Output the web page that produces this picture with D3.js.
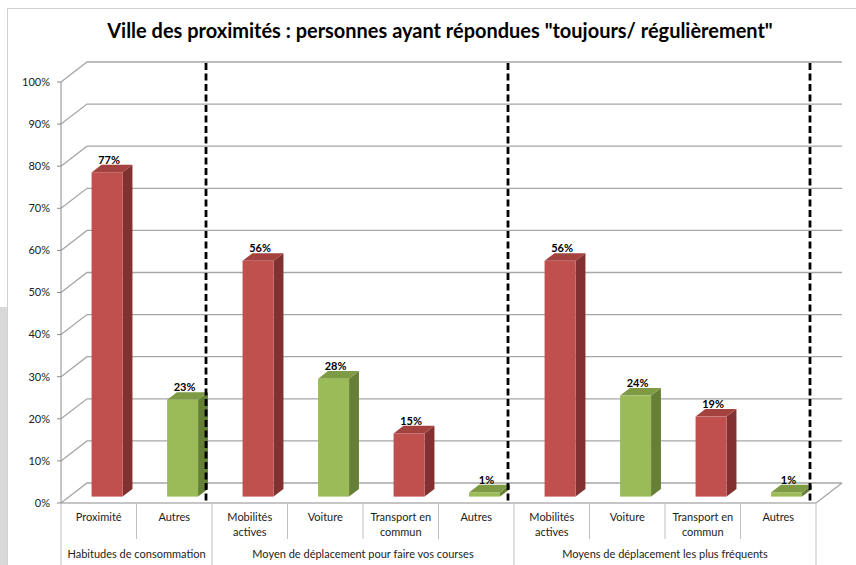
<!DOCTYPE html>
<html>
<head>
<meta charset="utf-8">
<script src="https://cdn.jsdelivr.net/npm/d3@7"></script>
<style>
    body { margin: 0; background: #fff; }
    svg { display: block; font-family: Lato, "Open Sans", sans-serif; }
    .grid { stroke: #a6a6a6; stroke-width: 1.3; fill: none; }
    .axis { stroke: #8c8c8c; stroke-width: 1; fill: none; }
    .sep { stroke: #bfbfbf; stroke-width: 1; }
    .tick text, .cat, .group { font-size: 11px; fill: #222; }
    .val { font-size: 11px; font-weight: bold; fill: #000; }
</style>
</head>
<body>
<svg width="856" height="565"></svg>
<script>
var title = 'Ville des proximités : personnes ayant répondues "toujours/ régulièrement"';
var categories = ['Proximité', 'Autres', 'Mobilités\nactives', 'Voiture', 'Transport en\ncommun', 'Autres',
                  'Mobilités\nactives', 'Voiture', 'Transport en\ncommun', 'Autres'];
var values = [77, 23, 56, 28, 15, 1, 56, 24, 19, 1];
var groupNames = ['Habitudes de consommation', 'Moyen de déplacement pour faire vos courses', 'Moyens de déplacement les plus fréquents'];
var groupSizes = [2, 4, 4];
var yTicks = [0, 10, 20, 30, 40, 50, 60, 70, 80, 90, 100];

var dom = {};
var depth = { dx: 26, dy: -20 };

var palette = [
    { front: '#c0504d', top: '#a3423f', side: '#81312f' },
    { front: '#9bbb59', top: '#7e9a45', side: '#667f36' }
];

function init() {
    dom.svg = d3.select('svg');

    dom.x = d3.scaleBand().domain(d3.range(categories.length)).range([61, 816]);
    dom.y = d3.scaleLinear().domain([0, 100]).range([503, 82]);

    drawFrame();
    drawWalls();
    drawBars();
    drawCategoryAxis();
    drawSeparators();
    drawTitle();
}

function drawFrame() {
    dom.svg.append('rect').attr('x', 0).attr('y', 307).attr('width', 7).attr('height', 258).attr('fill', '#d9d9d9');
    dom.svg.append('path').attr('d', 'M7.5,565V8.5H856').attr('stroke', '#d0d0d0').attr('fill', 'none');
}

function drawWalls() {
    var g = dom.svg.append('g');
    var x0 = dom.x.range()[0], x1 = dom.x.range()[1];

    // gridlines: slant on the side wall + horizontal on the back wall
    g.selectAll('.grid').data(yTicks).enter().append('path')
        .classed('grid', true)
        .attr('d', function(d) {
            var yf = dom.y(d);
            return 'M' + x0 + ',' + yf + 'L' + (x0 + depth.dx) + ',' + (yf + depth.dy) + 'H' + (x1 + depth.dx);
        });

    // floor right edge
    g.append('path').classed('grid', true)
        .attr('d', 'M' + x1 + ',' + dom.y(0) + 'L' + (x1 + depth.dx) + ',' + (dom.y(0) + depth.dy));

    // value axis
    g.append('line').classed('axis', true)
        .attr('x1', x0).attr('x2', x0).attr('y1', dom.y(100)).attr('y2', dom.y(0));

    var ticks = g.selectAll('.tick').data(yTicks).enter().append('g')
        .classed('tick', true)
        .attr('transform', function(d) { return 'translate(0,' + dom.y(d) + ')'; });
    ticks.append('line').classed('axis', true).attr('x1', x0 - 4).attr('x2', x0);
    ticks.append('text')
        .attr('x', 50).attr('dy', '0.35em')
        .attr('text-anchor', 'end')
        .text(function(d) { return d + '%'; });

    // front edge of the floor
    g.append('line').classed('axis', true)
        .attr('x1', x0).attr('x2', x1).attr('y1', dom.y(0)).attr('y2', dom.y(0));
}

function drawBars() {
    var zFront = 0.32, zBack = 0.7;
    var w = 31;
    var base = dom.y(0);
    var sy = dom.y(100) - base; // pixels for 100%

    function fx(i) { return dom.x(i) + dom.x.bandwidth() / 2 + zFront * depth.dx - w / 2; }
    function fy(v) { return base + zFront * depth.dy + sy * v / 100; }
    var bdx = (zBack - zFront) * depth.dx, bdy = (zBack - zFront) * depth.dy;

    var bars = dom.svg.append('g').selectAll('.bar')
            .data(values)
        .enter().append('g')
            .classed('bar', true);

    bars.append('path')
        .attr('fill', function(d, i) { return palette[i % 2].side; })
        .attr('d', function(d, i) {
            var x = fx(i) + w, y0 = fy(0), y1 = fy(d);
            return 'M' + x + ',' + y0 + 'L' + x + ',' + y1 + 'l' + bdx + ',' + bdy +
                'L' + (x + bdx) + ',' + (y0 + bdy) + 'Z';
        });
    bars.append('path')
        .attr('fill', function(d, i) { return palette[i % 2].top; })
        .attr('d', function(d, i) {
            var x = fx(i), y1 = fy(d);
            return 'M' + x + ',' + y1 + 'h' + w + 'l' + bdx + ',' + bdy + 'h' + (-w) + 'Z';
        });
    bars.append('rect')
        .attr('fill', function(d, i) { return palette[i % 2].front; })
        .attr('x', function(d, i) { return fx(i); })
        .attr('y', function(d) { return fy(d); })
        .attr('width', w)
        .attr('height', function(d) { return fy(0) - fy(d); });

    bars.append('text')
        .classed('val', true)
        .attr('text-anchor', 'middle')
        .attr('x', function(d, i) { return fx(i) + w / 2 + 2; })
        .attr('y', function(d) { return fy(d) + bdy - 1; })
        .text(function(d) { return d + '%'; });

    // dashed group dividers
    var ends = [];
    groupSizes.reduce(function(acc, n) { ends.push(acc + n); return acc + n; }, 0);
    dom.svg.append('g').selectAll('.divider')
            .data(ends)
        .enter().append('line')
            .classed('divider', true)
            .attr('x1', function(d) { return dom.x.range()[0] + d * dom.x.step() - 6; })
            .attr('x2', function(d) { return dom.x.range()[0] + d * dom.x.step() - 6; })
            .attr('y1', dom.y(100) + depth.dy + 1)
            .attr('y2', dom.y(0))
            .attr('stroke', '#000')
            .attr('stroke-width', 2.8)
            .attr('stroke-dasharray', '7,3.5');
}

function drawCategoryAxis() {
    var labels = dom.svg.append('g').selectAll('.cat')
            .data(categories)
        .enter().append('text')
            .classed('cat', true)
            .attr('text-anchor', 'middle')
            .attr('transform', function(d, i) {
                return 'translate(' + (dom.x(i) + dom.x.bandwidth() / 2) + ',521)';
            });
    labels.selectAll('tspan')
            .data(function(d) { return d.split('\n'); })
        .enter().append('tspan')
            .attr('x', 0)
            .attr('dy', function(d, i) { return i ? 15 : 0; })
            .text(function(d) { return d; });

    var start = 0;
    var groups = groupNames.map(function(name, i) {
        var g = { name: name, start: start, end: start + groupSizes[i] };
        start += groupSizes[i];
        return g;
    });
    dom.svg.append('g').selectAll('.group')
            .data(groups)
        .enter().append('text')
            .classed('group', true)
            .attr('text-anchor', 'middle')
            .attr('x', function(d) { return dom.x.range()[0] + (d.start + d.end) / 2 * dom.x.step(); })
            .attr('y', 558)
            .text(function(d) { return d.name; });
    dom.groups = groups;
}

function drawSeparators() {
    var x0 = dom.x.range()[0], base = dom.y(0);
    var bounds = d3.range(categories.length + 1);
    var groupEdges = [0].concat(dom.groups.map(function(g) { return g.end; }));

    dom.svg.append('g').selectAll('.sep')
            .data(bounds)
        .enter().append('line')
            .classed('sep', true)
            .attr('x1', function(d) { return x0 + d * dom.x.step(); })
            .attr('x2', function(d) { return x0 + d * dom.x.step(); })
            .attr('y1', base)
            .attr('y2', function(d) { return groupEdges.indexOf(d) >= 0 ? 565 : 539; });
}

function drawTitle() {
    var t = dom.svg.append('text')
        .attr('x', 440).attr('y', 38)
        .attr('text-anchor', 'middle')
        .attr('font-weight', 'bold')
        .attr('font-size', 19)
        .attr('fill', '#000')
        .text(title);
    var len = t.node().getComputedTextLength();
    t.attr('font-size', 19 * 666 / len);
}

init();
</script>
</body>
</html>
